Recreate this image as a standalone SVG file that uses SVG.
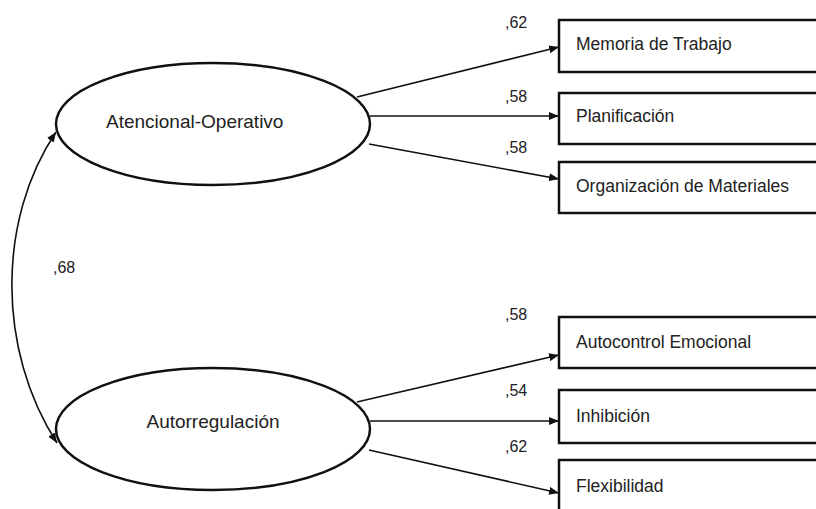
<svg xmlns="http://www.w3.org/2000/svg" width="816" height="509" viewBox="0 0 816 509">
<defs>
<marker id="ah" viewBox="0 0 10 8" refX="10" refY="4" markerWidth="10" markerHeight="8" markerUnits="userSpaceOnUse" orient="auto-start-reverse">
<path d="M0,0 L10,4 L0,8 Z" fill="#111"/>
</marker>
<style>
.lat{fill:#fff;stroke:#111;stroke-width:2.5}
.box{fill:#fff;stroke:#111;stroke-width:2.5}
.t{font-family:"Liberation Sans",Arial,sans-serif;fill:#222}
.nt{font-size:17.5px}
.lt{font-size:19px}
.w{font-size:16px}
.c{fill:none;stroke:#111;stroke-width:1.6}
</style>
</defs>
<rect width="816" height="509" fill="#fff"/>
<g id="connectors">
<line class="c" x1="357" y1="97" x2="559" y2="47" marker-end="url(#ah)"/>
<line class="c" x1="370" y1="116" x2="559" y2="116" marker-end="url(#ah)"/>
<line class="c" x1="369" y1="144" x2="559" y2="179" marker-end="url(#ah)"/>
<line class="c" x1="357" y1="402" x2="559" y2="355" marker-end="url(#ah)"/>
<line class="c" x1="370" y1="421" x2="559" y2="421" marker-end="url(#ah)"/>
<line class="c" x1="369" y1="450" x2="559" y2="493" marker-end="url(#ah)"/>
<path class="c" d="M56,132 C-3,220 -3,350 57,443" marker-start="url(#ah)" marker-end="url(#ah)"/>
<text class="t w" x="505" y="28">,62</text>
<text class="t w" x="505" y="102">,58</text>
<text class="t w" x="505" y="153">,58</text>
<text class="t w" x="505" y="320">,58</text>
<text class="t w" x="505" y="396">,54</text>
<text class="t w" x="505" y="452">,62</text>
<text class="t w" x="53" y="273">,68</text>
</g>
<g id="atencional">
<ellipse class="lat" cx="213" cy="124" rx="157" ry="61"/>
<text class="t lt" x="106" y="128">Atencional-Operativo</text>
</g>
<g id="autorregulacion">
<ellipse class="lat" cx="213" cy="429" rx="157" ry="61"/>
<text class="t lt" x="213" y="428" text-anchor="middle">Autorregulación</text>
</g>
<g id="memoria">
<rect class="box" x="559" y="20" width="270" height="52"/>
<text class="t nt" x="576" y="50">Memoria de Trabajo</text>
</g>
<g id="planificacion">
<rect class="box" x="559" y="93" width="270" height="51"/>
<text class="t nt" x="576" y="122">Planificación</text>
</g>
<g id="organizacion">
<rect class="box" x="559" y="162" width="270" height="51"/>
<text class="t nt" x="576" y="192">Organización de Materiales</text>
</g>
<g id="autocontrol">
<rect class="box" x="559" y="317" width="270" height="51"/>
<text class="t nt" x="576" y="348">Autocontrol Emocional</text>
</g>
<g id="inhibicion">
<rect class="box" x="559" y="390" width="270" height="53"/>
<text class="t nt" x="576" y="422">Inhibición</text>
</g>
<g id="flexibilidad">
<rect class="box" x="559" y="460" width="270" height="60"/>
<text class="t nt" x="576" y="492">Flexibilidad</text>
</g>
</svg>
